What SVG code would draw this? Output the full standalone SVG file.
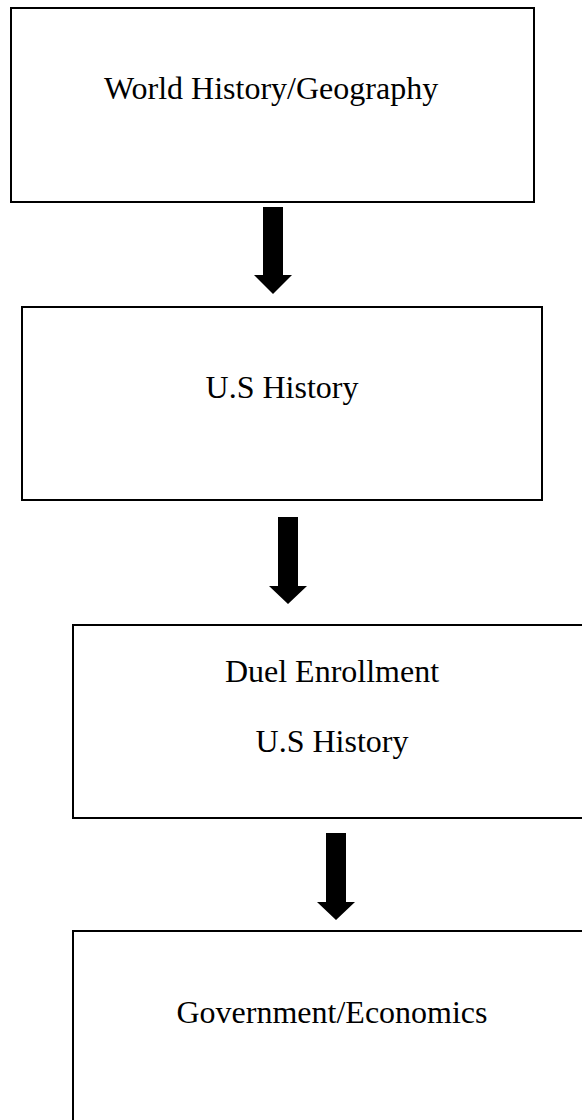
<svg xmlns="http://www.w3.org/2000/svg" width="582" height="1120" viewBox="0 0 582 1120">
<style>
.box{fill:#fff;stroke:#000;stroke-width:2}
.lbl{font-family:"Liberation Serif","Times New Roman",serif;font-size:32px;fill:#000;text-anchor:middle}
.arrow{fill:#000}
</style>
<rect width="582" height="1120" fill="#fff"/>
<g id="node-world">
<rect class="box" x="11" y="8" width="523" height="194"/>
<text class="lbl" x="271" y="99">World History/Geography</text>
</g>
<g id="node-us">
<rect class="box" x="22" y="307" width="520" height="193"/>
<text class="lbl" x="282" y="398">U.S History</text>
</g>
<g id="node-duel">
<rect class="box" x="73" y="625" width="520" height="193"/>
<text class="lbl" x="332" y="682">Duel Enrollment</text>
<text class="lbl" x="332" y="752">U.S History</text>
</g>
<g id="node-gov">
<rect class="box" x="73" y="931" width="520" height="200"/>
<text class="lbl" x="332" y="1023">Government/Economics</text>
</g>
<g id="connectors">
<polygon class="arrow" points="263,207 283,207 283,275 292,275 273,294 254,275 263,275"/>
<polygon class="arrow" points="278,517 298,517 298,586 307,586 288,604 269,586 278,586"/>
<polygon class="arrow" points="326,833 346,833 346,902 355,902 336,920 317,902 326,902"/>
</g>
</svg>
